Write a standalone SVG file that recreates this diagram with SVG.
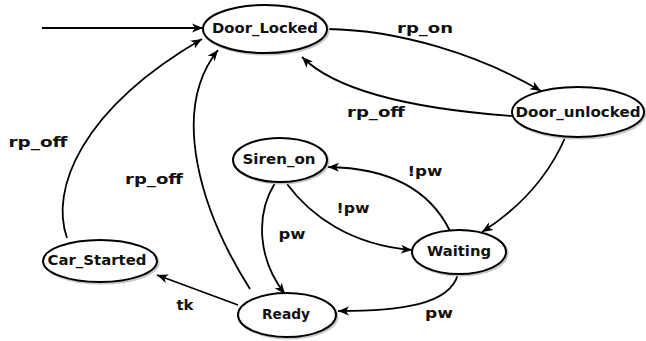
<svg xmlns="http://www.w3.org/2000/svg" width="646" height="341" viewBox="0 0 646 341">
<defs>
<marker id="arr" markerWidth="12" markerHeight="10" refX="11" refY="5" orient="auto" markerUnits="userSpaceOnUse">
<path d="M0,0.5 L11,5 L0,9.5 L3,5 Z" fill="#000"/>
</marker>
</defs>
<style>
.node .sh{fill:none;stroke:#c8c8c8;stroke-width:2.2}
.node .bd{fill:#fff;stroke:#000;stroke-width:2}
text{font-family:"DejaVu Sans",Verdana,sans-serif;font-weight:bold;font-size:14px;fill:#111;text-anchor:middle}
.edges path{fill:none;stroke:#000;stroke-width:1.8;marker-end:url(#arr)}
</style>
<rect width="646" height="341" fill="#fff"/>
<g class="edges">
<path d="M42,28 L203,28"/>
<path d="M327,29 C400,30 480,55 541,91"/>
<path d="M512,116 C430,110 340,95 302,57"/>
<path d="M565,138 Q540,195 482,232"/>
<path d="M450,231 C430,190 390,168 328,167"/>
<path d="M287,184 C310,215 350,245 412,250"/>
<path d="M275,183 C255,215 258,260 285,294"/>
<path d="M458,274 C450,305 400,311 338,311"/>
<path d="M238,305 L157,275"/>
<path d="M250,289 C200,210 170,110 218,50"/>
<path d="M67,238 C50,190 80,110 202,39"/>
</g>
<g class="labels">
<text x="425" y="33" textLength="56" lengthAdjust="spacingAndGlyphs">rp_on</text>
<text x="376" y="117" textLength="58" lengthAdjust="spacingAndGlyphs">rp_off</text>
<text x="38" y="147" textLength="59" lengthAdjust="spacingAndGlyphs">rp_off</text>
<text x="154" y="184" textLength="58" lengthAdjust="spacingAndGlyphs">rp_off</text>
<text x="425" y="176" textLength="35" lengthAdjust="spacingAndGlyphs">!pw</text>
<text x="353" y="213" textLength="33" lengthAdjust="spacingAndGlyphs">!pw</text>
<text x="292" y="239" textLength="27" lengthAdjust="spacingAndGlyphs">pw</text>
<text x="439" y="318" textLength="28" lengthAdjust="spacingAndGlyphs">pw</text>
<text x="185" y="310" textLength="17" lengthAdjust="spacingAndGlyphs">tk</text>
</g>
<g id="Door_Locked" class="node">
<ellipse class="sh" cx="266.5" cy="30.5" rx="62" ry="24"/>
<ellipse class="bd" cx="265" cy="29" rx="62" ry="24"/>
<text x="265" y="33" textLength="106" lengthAdjust="spacingAndGlyphs">Door_Locked</text>
</g>
<g id="Door_unlocked" class="node">
<ellipse class="sh" cx="579.5" cy="113.5" rx="66" ry="25"/>
<ellipse class="bd" cx="578" cy="112" rx="66" ry="25"/>
<text x="578" y="117" textLength="125" lengthAdjust="spacingAndGlyphs">Door_unlocked</text>
</g>
<g id="Siren_on" class="node">
<ellipse class="sh" cx="281.5" cy="161.5" rx="47" ry="22"/>
<ellipse class="bd" cx="280" cy="160" rx="47" ry="22"/>
<text x="279" y="164" textLength="73" lengthAdjust="spacingAndGlyphs">Siren_on</text>
</g>
<g id="Waiting" class="node">
<ellipse class="sh" cx="460.5" cy="253.5" rx="47" ry="22"/>
<ellipse class="bd" cx="459" cy="252" rx="47" ry="22"/>
<text x="459" y="256" textLength="64" lengthAdjust="spacingAndGlyphs">Waiting</text>
</g>
<g id="Car_Started" class="node">
<ellipse class="sh" cx="101.5" cy="262.5" rx="57" ry="21"/>
<ellipse class="bd" cx="100" cy="261" rx="57" ry="21"/>
<text x="97" y="265" textLength="99" lengthAdjust="spacingAndGlyphs">Car_Started</text>
</g>
<g id="Ready" class="node">
<ellipse class="sh" cx="288.5" cy="316.5" rx="49" ry="22"/>
<ellipse class="bd" cx="287" cy="315" rx="49" ry="22"/>
<text x="286" y="319" textLength="48" lengthAdjust="spacingAndGlyphs">Ready</text>
</g>
</svg>
